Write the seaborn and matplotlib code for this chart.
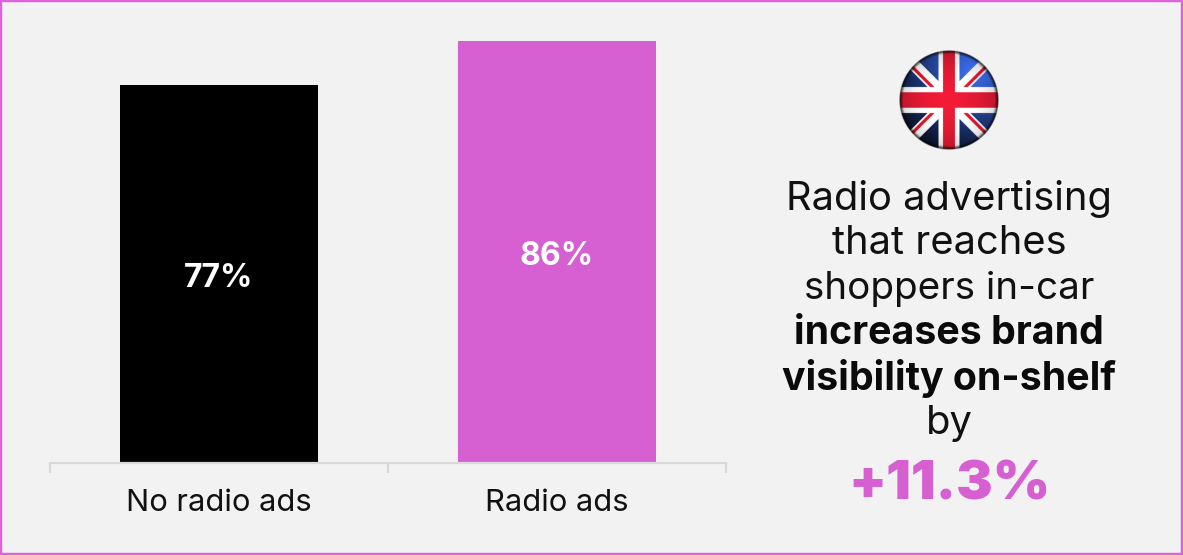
import numpy as np
import pandas as pd
import matplotlib
matplotlib.use("Agg")
import matplotlib.pyplot as plt
from matplotlib.patches import Rectangle
import seaborn as sns

categories = ["No radio ads", "Radio ads"]
values = [77, 86]
bar_colors = ["#000000", "#D65FD2"]
value_labels = ["77%", "86%"]
regular_lines = ["Radio advertising", "that reaches", "shoppers in-car"]
bold_lines = ["increases brand", "visibility on-shelf"]
connector = "by"
headline = "+11.3%"

BG = "#F2F2F2"
PINK = "#D65FD2"
W, H = 1183, 555

sns.set_theme(style="white")
plt.rcParams["font.family"] = ["Inter", "DejaVu Sans"]

fig = plt.figure(figsize=(W / 100, H / 100), dpi=100, facecolor=BG)


def px_axes(x0, y0, x1, y1):
    """Axes placed by pixel box, with y measured from the top of the figure."""
    return fig.add_axes([x0 / W, 1 - y1 / H, (x1 - x0) / W, (y1 - y0) / H])


# Bars
ax = px_axes(50, 21, 726, 463)
ax.set_facecolor("none")
df = pd.DataFrame({"group": categories, "share": values})
sns.barplot(data=df, x="group", y="share", hue="group", palette=bar_colors,
            order=categories, hue_order=categories, width=0.587, dodge=False,
            saturation=1, legend=False, linewidth=0, edgecolor="none", ax=ax)
ax.set_xlim(-0.5, 1.5)
ax.set_ylim(0, 442 / 4.91)
ax.set_xlabel("")
ax.set_ylabel("")
ax.set_yticks([])
sns.despine(ax=ax, left=True)
ax.spines["bottom"].set_color("#D9D9D9")
ax.spines["bottom"].set_linewidth(1.6)

# Tick marks sit between the categories
ax.set_xticks([0, 1])
ax.set_xticklabels(categories, fontsize=22.2, color="#111111")
ax.tick_params(axis="x", which="major", bottom=False, length=0, pad=19)
ax.set_xticks([-0.5, 0.5, 1.5], minor=True)
ax.tick_params(axis="x", which="minor", bottom=True, length=7, width=1.6,
               color="#D9D9D9")

for i, (v, label) in enumerate(zip(values, value_labels)):
    ax.annotate(label, xy=(i, v / 2), xytext=(0, -3), textcoords="offset points",
                ha="center", va="center", color="white", fontsize=23,
                fontweight="bold")

# Side message
cx = 949 / W
for y, line, size in zip((199, 244, 289), regular_lines, (28.7, 28.7, 27.8)):
    fig.text(cx, 1 - y / H, line, ha="center", va="center", fontsize=size,
             color="#111111")
for y, line in zip((334, 379), bold_lines):
    fig.text(cx, 1 - y / H, line, ha="center", va="center", fontsize=28.3,
             fontweight="bold", color="#0A0A0A")
fig.text(cx, 1 - 424 / H, connector, ha="center", va="center", fontsize=28.7,
         color="#111111")
fig.text(cx, 1 - 486 / H, headline, ha="center", va="center", fontsize=39.5,
         fontweight="black", color=PINK)

# Round Union Flag badge, shaded like a glossy button
n = 400
yy, xx = np.mgrid[-1:1:n * 1j, -1:1:n * 1j]
rr = np.hypot(xx, yy)
rgb = np.zeros((n, n, 3))
rgb[...] = np.array([0.16, 0.30, 0.66])
diag = np.abs(xx) - np.abs(yy)
rgb[np.abs(diag) < 0.17] = [1, 1, 1]
# Red diagonals run on the horizontal side of each white band
rgb[(diag > 0.03) & (diag < 0.12)] = [0.86, 0.10, 0.18]
rgb[(np.abs(xx) < 0.21) | (np.abs(yy) < 0.26)] = [1, 1, 1]
rgb[(np.abs(xx) < 0.12) | (np.abs(yy) < 0.155)] = [0.88, 0.10, 0.20]
# Highlight towards the top right, darkening to the rim
blue_mask = rgb[..., 2] > rgb[..., 0] + 0.1
light = np.where(blue_mask,
                 1.45 - 0.75 * np.hypot(xx - 0.45, yy + 0.55),
                 1.08 - 0.25 * rr ** 2)
light = np.clip(light, 0.25, 1.45)
rim = np.clip((1.0 - rr) / 0.08, 0.25, 1.0)
shaded = np.clip(rgb * light[..., None] * rim[..., None], 0, 1)
alpha = np.clip((1.0 - rr) / 0.02, 0, 1)
badge = np.dstack([shaded, alpha])
flag_ax = px_axes(899, 50, 999, 150)
flag_ax.imshow(badge, interpolation="antialiased")
flag_ax.axis("off")

# Outer frame
fig.add_artist(Rectangle((0, 0), 1, 1, transform=fig.transFigure, fill=False,
                         edgecolor="#E060E0", linewidth=3.2))

fig.savefig("out.png", dpi=100, facecolor=BG)
